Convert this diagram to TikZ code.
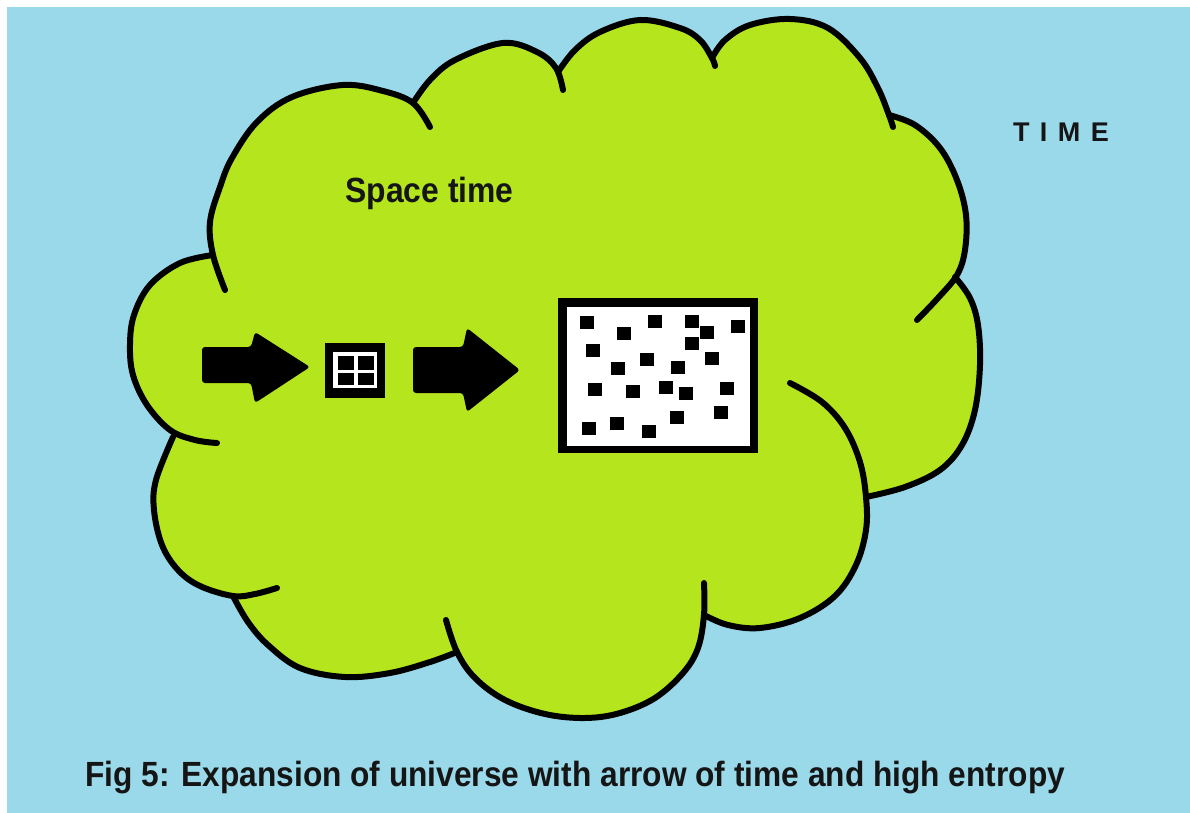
\documentclass[tikz,border=0pt]{standalone}
\usepackage{fontspec}
\setmainfont{Liberation Sans}
\definecolor{skyblue}{HTML}{99D9EA}
\definecolor{lime}{HTML}{B5E61D}
\definecolor{ink}{HTML}{151515}
\begin{document}
\begin{tikzpicture}[x=0.5pt,y=-0.5pt,
  cloudline/.style={line width=3pt,line cap=round,line join=round,black},
  lobe/.style={smooth,tension=0.6},
  arrowshape/.style={fill=black,rounded corners=1.5pt},
  dot/.style={fill=black},
  label/.style={text=ink,font=\bfseries,inner sep=0pt}]
\useasboundingbox (0,0) rectangle (1190,813);
\fill[white] (0,0) rectangle (1190,813);
\fill[skyblue] (7,7) rectangle (1190,813);
% cloud fill
\fill[lime]
  plot[lobe] coordinates {(213,255) (210,222) (220,187) (232,158) (257,122) (292,97) (343,85) (383,91) (413,103)}
  -- plot[lobe] coordinates {(413,103) (430,80) (455,60) (503,43) (537,52) (558,72)}
  -- plot[lobe] coordinates {(558,72) (575,50) (600,32) (640,20) (680,28) (700,40) (712,58)}
  -- plot[lobe] coordinates {(712,58) (725,40) (750,25) (790,19) (828,28) (860,58) (878,88) (889,115)}
  -- plot[lobe] coordinates {(889,115) (915,125) (940,148) (957,180) (966,215) (965,250) (957,275)}
  -- plot[lobe] coordinates {(957,275) (970,298) (978,325) (980,365) (975,410) (962,445) (940,470) (905,487) (866,497)}
  -- plot[lobe] coordinates {(866,497) (866,530) (856,565) (835,596) (800,618) (760,628) (728,625) (704,615)}
  -- plot[lobe] coordinates {(704,615) (698,648) (683,673) (655,698) (620,713) (585,718) (545,714) (505,700) (475,678) (457,652)}
  -- plot[lobe] coordinates {(457,652) (430,662) (390,673) (345,677) (300,668) (268,645) (248,622) (233,596)}
  -- plot[lobe] coordinates {(233,596) (200,586) (178,570) (162,545) (154,510) (156,480) (173,437)}
  -- plot[lobe] coordinates {(173,437) (147,405) (133,375) (130,345) (134,315) (150,285) (180,263) (213,255)}
  -- cycle;
% cloud outline lobes
\draw[cloudline] plot[lobe] coordinates {(225,290) (213,255) (210,222) (220,187) (232,158) (257,122) (292,97) (343,85) (383,91) (413,103) (430,127)};
\draw[cloudline] plot[lobe] coordinates {(413,103) (430,80) (455,60) (503,43) (537,52) (556,68) (563,90)};
\draw[cloudline] plot[lobe] coordinates {(558,72) (575,50) (600,32) (640,20) (680,28) (700,40) (712,58) (715,66)};
\draw[cloudline] plot[lobe] coordinates {(712,58) (725,40) (750,25) (790,19) (828,28) (860,58) (878,88) (889,115) (893,127)};
\draw[cloudline] plot[lobe] coordinates {(889,115) (915,125) (940,148) (957,180) (966,215) (965,250) (957,275) (938,298) (917,320)};
\draw[cloudline] plot[lobe] coordinates {(955,277) (970,298) (978,325) (980,365) (975,410) (962,445) (940,470) (905,487) (866,497)};
\draw[cloudline] plot[lobe] coordinates {(790,383) (822,402) (845,428) (860,462) (866,497) (866,530) (856,565) (835,596) (800,618) (760,628) (728,625) (704,615)};
\draw[cloudline] plot[lobe] coordinates {(704,583) (704,615) (698,648) (683,673) (655,698) (620,713) (585,718) (545,714) (505,700) (475,678) (457,652) (446,620)};
\draw[cloudline] plot[lobe] coordinates {(457,652) (430,662) (390,673) (345,677) (300,668) (268,645) (248,622) (233,596)};
\draw[cloudline] plot[lobe] coordinates {(173,437) (156,480) (154,510) (162,545) (178,570) (200,586) (233,596) (255,594) (277,588)};
\draw[cloudline] plot[lobe] coordinates {(213,255) (180,263) (150,285) (134,315) (130,345) (133,375) (147,405) (170,430) (195,440) (217,443)};
% arrows
\fill[arrowshape] (202,347) -- (251,347) -- (255,332) -- (310,367) -- (255,403) -- (251,383) -- (202,383) -- cycle;
\fill[arrowshape] (413,347) -- (463,347) -- (467,328) -- (520,370) -- (467,412) -- (463,393) -- (413,393) -- cycle;
% small box
\fill[black] (325,343) rectangle (385,398);
\fill[white] (333,352) rectangle (377,388);
\fill[dot] (338,356) rectangle (354,370);
\fill[dot] (358,356) rectangle (374,370);
\fill[dot] (338,373) rectangle (354,385);
\fill[dot] (358,373) rectangle (374,385);
% big box
\fill[black] (558,298) rectangle (758,453);
\fill[white] (567,307) rectangle (750,446);
\foreach \x/\y in {587/322,624/333,655/321,692/321,707/332,738/326,692/343,593/350,647/359,712/358,618/368,678/367,595/389,633/391,666/387,686/393,727/388,677/417,721/412,589/428,617/423,649/431}
  \fill[dot] (\x-7,\y-6.5) rectangle (\x+7,\y+6.5);
% texts
\node[label,anchor=base west,font=\bfseries\fontsize{17.5}{20}\selectfont] (spacetime) at (345,203) {\scalebox{0.91}[1]{Space time}};
\node[label,anchor=base,font=\bfseries\fontsize{13.5}{15}\selectfont] (time) at (1061,142) {\makebox[48pt][s]{T\hfill I\hfill M\hfill E}};
\node[label,anchor=base west,font=\bfseries\fontsize{17.5}{20}\selectfont] (caption) at (85,786) {\scalebox{0.905}[1]{Fig 5: Expansion of universe with arrow of time and high entropy}};
\end{tikzpicture}
\end{document}
